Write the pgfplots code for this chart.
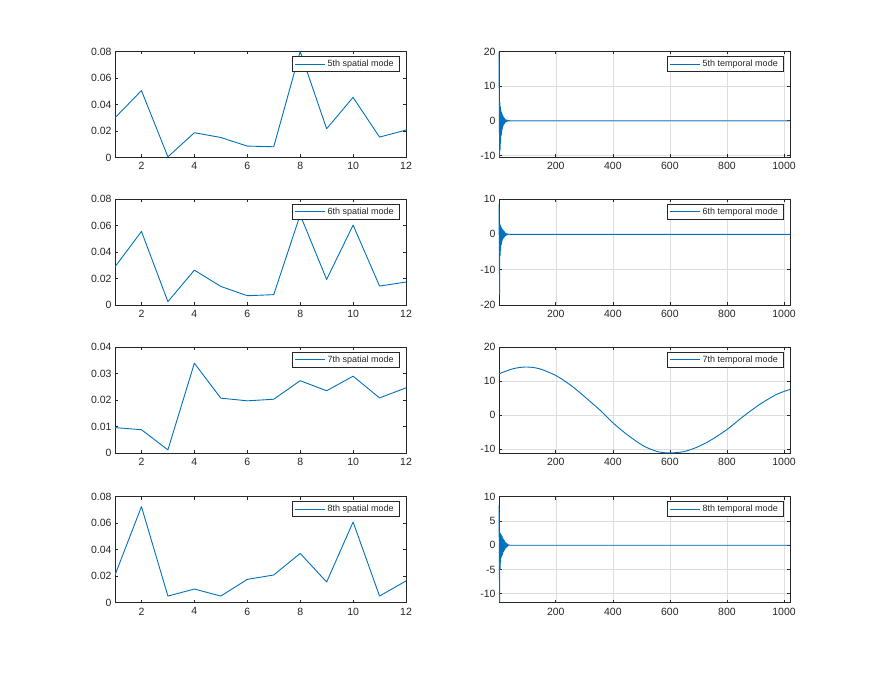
\documentclass[border=0pt]{standalone}
\usepackage{fontspec}
\setmainfont{Liberation Sans}
\usepackage{pgfplots}
\pgfplotsset{compat=1.18}
\definecolor{mblue}{rgb}{0,0.447,0.741}
\definecolor{mgray}{rgb}{0.15,0.15,0.15}
\definecolor{mgrid}{rgb}{0.87,0.87,0.87}

\pgfplotsset{
 base/.style={scale only axis, width=291pt, height=106pt, anchor=north west,
  axis line style={mgray, line width=0.6pt},
  every tick/.style={mgray, line width=0.6pt},
  major tick length=3pt, tick align=inside,
  ticklabel style={font=\fontsize{10.5}{12}\selectfont, text=mgray},
  xticklabel style={yshift=-1.5pt},
  /pgf/number format/assume math mode=true,
  /pgf/number format/1000 sep={},
  scaled ticks=false,
  legend style={at={(rel axis cs:0.976,0.955)}, anchor=north east, draw=mgray, line width=0.5pt,
    font=\fontsize{9}{10}\selectfont, text=mgray, inner xsep=3pt, inner ysep=1.5pt},
  legend cell align=left,
  legend image code/.code={\draw[mblue, line width=0.9pt] (0pt,0pt) -- (30pt,0pt);},
  cycle list={{mblue, mark=none}},
  no markers,
  every axis plot post/.append style={line width=0.9pt, line join=round},
 },
 spatial/.style={base, xmin=1, xmax=12, xtick={2,4,...,12}, ymin=0},
 temporal/.style={base, xmin=1, xmax=1021, xtick={200,400,600,800,1000},
  grid=major, grid style={mgrid, line width=0.5pt}},
 overlay/.style={temporal, hide axis, clip=false},
}

\pgfplotstableread{
x y
1 0.0300
2 0.0505
3 0.0005
4 0.0187
5 0.0151
6 0.0086
7 0.0081
8 0.0800
9 0.0217
10 0.0454
11 0.0154
12 0.0207
}\sfive
\pgfplotstableread{
x y
1 0.0288
2 0.0555
3 0.0025
4 0.0263
5 0.0140
6 0.0070
7 0.0078
8 0.0680
9 0.0193
10 0.0603
11 0.0143
12 0.0173
}\ssix
\pgfplotstableread{
x y
1 0.0097
2 0.0089
3 0.0013
4 0.0340
5 0.0208
6 0.0198
7 0.0204
8 0.0274
9 0.0236
10 0.0291
11 0.0209
12 0.0247
}\sseven
\pgfplotstableread{
x y
1 0.0209
2 0.0725
3 0.0050
4 0.0103
5 0.0050
6 0.0176
7 0.0209
8 0.0372
9 0.0156
10 0.0609
11 0.0050
12 0.0164
}\seight

\pgfplotstableread{
x y
1 19.8
3 -10.4
4 5.2
5 -8.3
6 4.0
7 -6.5
8 3.0
9 -4.2
10 2.4
11 -3.0
12 1.9
13 -2.2
14 1.5
15 -1.6
16 1.2
17 -1.2
18 0.9
19 -0.9
20 0.7
21 -0.7
22 0.5
24 -0.4
26 0.3
28 -0.2
30 0.15
32 -0.1
35 0.05
40 0
1021 0
}\tfive
\pgfplotstableread{
x y
1 8.5
3 -17.0
4 3.0
5 -6.0
6 2.5
7 -4.5
8 2.2
9 -3.0
10 1.8
11 -2.2
12 1.5
13 -1.6
14 1.3
15 -1.3
16 1.1
17 -1.0
18 0.9
19 -0.8
20 0.7
21 -0.6
22 0.5
24 -0.4
26 0.3
28 -0.2
30 0.15
32 -0.1
35 0.05
40 0
1021 0
}\tsix
\pgfplotstableread{
x y
1 12.2
51 13.7
96 14.2
142 13.7
200 11.7
256 8.6
313 4.6
359 1.2
400 -2.2
450 -5.7
507 -9.0
557 -10.7
600 -11.1
649 -10.7
695 -9.4
742 -7.4
800 -4.2
858 -0.3
915 3.2
973 6.1
1021 7.6
}\tseven
\pgfplotstableread{
x y
1 8.3
3 -11.6
4 2.6
5 -5.0
6 2.4
7 -3.5
8 2.2
9 -2.5
10 2.0
11 -2.2
12 1.8
13 -1.9
14 1.5
15 -1.6
16 1.3
17 -1.3
18 1.1
19 -1.1
20 0.9
21 -0.9
22 0.7
24 -0.6
26 0.5
28 -0.4
30 0.3
32 -0.2
35 0.1
40 0
1021 0
}\teight

\begin{document}
\begin{tikzpicture}
\fill[white] (0pt,0pt) rectangle (875pt,677pt);
\path[use as bounding box] (0pt,0pt) rectangle (875pt,677pt);

% Row 1
\begin{axis}[spatial, at={(115pt,625.5pt)}, ymax=0.08, ytick={0,0.02,0.04,0.06,0.08},
  yticklabels={0,0.02,0.04,0.06,0.08}]
\addplot table[x=x,y=y] {\sfive};
\addlegendentry{5th spatial mode}
\end{axis}
\begin{axis}[temporal, at={(499pt,625.5pt)}, ymin=-10.6, ymax=20, ytick={-10,0,10,20}]
\end{axis}
\begin{axis}[overlay, at={(499pt,625.5pt)}, ymin=-10.6, ymax=20]
\addplot table[x=x,y=y] {\tfive};
\addlegendentry{5th temporal mode}
\end{axis}

% Row 2
\begin{axis}[spatial, at={(115pt,478pt)}, ymax=0.08, ytick={0,0.02,0.04,0.06,0.08},
  yticklabels={0,0.02,0.04,0.06,0.08}]
\addplot table[x=x,y=y] {\ssix};
\addlegendentry{6th spatial mode}
\end{axis}
\begin{axis}[temporal, at={(499pt,478pt)}, ymin=-20, ymax=10, ytick={-20,-10,0,10}]
\end{axis}
\begin{axis}[overlay, at={(499pt,478pt)}, ymin=-20, ymax=10]
\addplot table[x=x,y=y] {\tsix};
\addlegendentry{6th temporal mode}
\end{axis}

% Row 3
\begin{axis}[spatial, at={(115pt,329.7pt)}, ymax=0.04, ytick={0,0.01,0.02,0.03,0.04},
  yticklabels={0,0.01,0.02,0.03,0.04}]
\addplot table[x=x,y=y] {\sseven};
\addlegendentry{7th spatial mode}
\end{axis}
\begin{axis}[temporal, at={(499pt,329.7pt)}, ymin=-11.2, ymax=20, ytick={-10,0,10,20}]
\end{axis}
\begin{axis}[overlay, at={(499pt,329.7pt)}, ymin=-11.2, ymax=20]
\addplot+[smooth, tension=0.5] table[x=x,y=y] {\tseven};
\addlegendentry{7th temporal mode}
\end{axis}

% Row 4
\begin{axis}[spatial, at={(115pt,180.3pt)}, ymax=0.08, ytick={0,0.02,0.04,0.06,0.08},
  yticklabels={0,0.02,0.04,0.06,0.08}]
\addplot table[x=x,y=y] {\seight};
\addlegendentry{8th spatial mode}
\end{axis}
\begin{axis}[temporal, at={(499pt,180.3pt)}, ymin=-11.85, ymax=10, ytick={-10,-5,0,5,10}]
\end{axis}
\begin{axis}[overlay, at={(499pt,180.3pt)}, ymin=-11.85, ymax=10]
\addplot table[x=x,y=y] {\teight};
\addlegendentry{8th temporal mode}
\end{axis}
\end{tikzpicture}
\end{document}
